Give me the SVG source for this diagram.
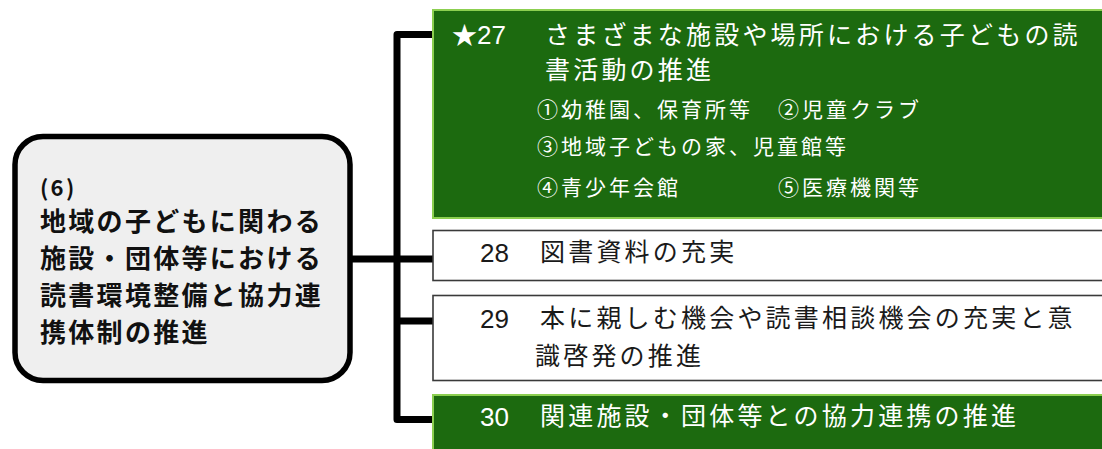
<svg xmlns="http://www.w3.org/2000/svg" width="1102" height="449" viewBox="0 0 1102 449">
<style>
.green{fill:#1c6a0f;stroke:#8ccf50;stroke-width:2}
.white{fill:#ffffff;stroke:#3a3a3a;stroke-width:1.6}
.conn{fill:none;stroke:#000;stroke-width:7;stroke-linejoin:round}
.t{font-family:"Noto Sans CJK JP","Noto Sans",sans-serif;font-size:25px;letter-spacing:3.2px}
.n{font-family:"Liberation Sans","Noto Sans CJK JP",sans-serif;font-size:26px;letter-spacing:0}
.s{font-family:"Noto Sans CJK JP","Noto Sans",sans-serif;font-size:21px;letter-spacing:3px}
.w{fill:#ffffff}
.k{fill:#1a1a1a}
.b{font-family:"Noto Sans CJK JP","Noto Sans",sans-serif;font-size:26px;font-weight:bold;letter-spacing:2.3px;fill:#111}
</style>
<rect width="1102" height="449" fill="#ffffff"/>
<g id="connectors">
<path class="conn" d="M433,34.5 H397 V419.5 H433"/>
<path class="conn" d="M352,259 H433"/>
<path class="conn" d="M397,321 H433"/>
</g>
<g id="node-6">
<rect x="15" y="136.5" width="335" height="244" rx="28" ry="28" fill="#efefef" stroke="#000" stroke-width="5.5"/>
<text class="b" x="40" y="196" style="font-size:22px">(6)</text>
<text class="b" x="40" y="231">地域の子どもに関わる</text>
<text class="b" x="40" y="268">施設・団体等における</text>
<text class="b" x="40" y="305">読書環境整備と協力連</text>
<text class="b" x="40" y="342">携体制の推進</text>
</g>
<g id="node-27">
<rect class="green" x="433" y="10" width="680" height="208"/>
<text class="t w" x="452" y="44" style="letter-spacing:0">★</text>
<text class="n w" x="477" y="44">27</text>
<text class="t w" x="545" y="44">さまざまな施設や場所における子どもの読</text>
<text class="t w" x="545" y="79">書活動の推進</text>
<text class="s w" x="537" y="117">①幼稚園、保育所等</text>
<text class="s w" x="778" y="117">②児童クラブ</text>
<text class="s w" x="537" y="154">③地域子どもの家、児童館等</text>
<text class="s w" x="537" y="195">④青少年会館</text>
<text class="s w" x="778" y="195">⑤医療機関等</text>
</g>
<g id="node-28">
<rect class="white" x="433" y="230.5" width="680" height="50"/>
<text class="n k" x="480" y="262">28</text>
<text class="t k" x="540" y="261">図書資料の充実</text>
</g>
<g id="node-29">
<rect class="white" x="433" y="295.5" width="680" height="85"/>
<text class="n k" x="480" y="328">29</text>
<text class="t k" x="540" y="327">本に親しむ機会や読書相談機会の充実と意</text>
<text class="t k" x="535" y="365">識啓発の推進</text>
</g>
<g id="node-30">
<rect class="green" x="433" y="395" width="680" height="70"/>
<text class="n w" x="480" y="426">30</text>
<text class="t w" x="540" y="425">関連施設・団体等との協力連携の推進</text>
</g>
</svg>
